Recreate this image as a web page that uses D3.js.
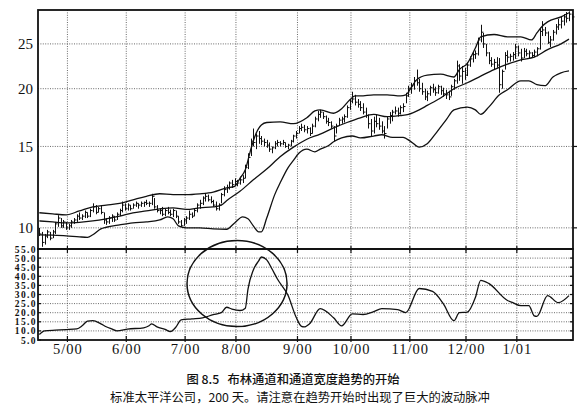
<!DOCTYPE html>
<html><head><meta charset="utf-8">
<script src="https://cdn.jsdelivr.net/npm/d3@7"></script>
<style>body{margin:0;background:#fff}</style>
</head><body><svg id="c" width="585" height="409"></svg>
<script>
// ---- data (200 trading days, Apr 2000 - Jan 2001) ----
const months = ["5/00","6/00","7/00","8/00","9/00","10/00","11/00","12/00","1/01"];
const monthStart = [11,33,55,74,97,117,139,160,179];
const priceTicks = [10,15,20,25];
const bwTicks = [5,10,15,20,25,30,35,40,45,50,55];

const high = [10.0,9.8,9.7,9.9,9.8,9.9,10.3,10.65,10.5,10.4,
10.3,10.2,10.4,10.5,10.7,10.8,10.7,10.9,10.8,11.0,
11.3,11.2,11.1,11.2,10.8,10.5,10.6,10.7,10.6,10.8,
11.0,11.4,11.3,11.3,11.2,11.3,11.4,11.3,11.4,11.4,
11.5,11.4,11.85,11.6,11.2,11.0,11.1,11.0,11.1,10.95,
11.0,10.9,10.6,10.4,10.5,10.6,10.9,10.8,11.0,11.3,
11.5,11.7,11.9,11.8,11.7,11.5,11.4,11.3,11.9,12.3,
12.4,12.6,12.7,12.8,12.7,12.9,13.0,13.7,14.5,15.6,
16.4,16.0,16.2,15.8,15.6,15.5,15.3,15.0,15.4,15.5,
15.4,15.5,15.3,15.2,15.5,15.9,16.2,16.6,16.8,16.7,
16.6,16.5,16.8,17.4,17.9,18.0,17.8,17.5,17.3,17.0,
16.6,16.8,17.3,17.4,17.6,18.4,19.0,19.7,19.4,19.0,
18.8,18.6,18.2,17.6,17.2,17.4,17.6,17.3,17.0,16.6,
17.4,17.8,18.0,18.3,18.2,18.4,18.6,19.6,20.3,20.6,
21.2,22.0,21.0,20.6,20.0,19.8,20.3,20.5,20.2,20.4,
20.3,20.1,19.9,19.8,20.4,21.0,23.0,22.6,22.4,22.2,
22.8,23.5,24.0,24.2,25.8,27.5,26.4,25.0,24.0,23.4,
23.2,23.4,23.3,22.0,24.0,24.2,23.8,24.0,25.0,24.8,
24.4,24.5,24.4,24.2,24.0,24.3,24.6,27.0,28.0,27.2,
26.6,26.0,26.8,27.6,28.3,28.6,29.0,29.3,29.4,29.0];
const low = [9.6,9.1,9.2,9.5,9.4,9.5,9.7,10.05,10.0,10.0,
9.9,9.9,10.0,10.2,10.3,10.4,10.4,10.5,10.5,10.55,
10.8,10.7,10.8,10.7,10.2,10.15,10.2,10.3,10.3,10.4,
10.6,10.8,10.9,10.9,10.9,11.0,11.1,11.0,11.1,11.1,
11.2,11.1,11.2,11.0,10.8,10.7,10.6,10.6,10.7,10.6,
10.55,10.5,10.2,10.05,10.1,10.2,10.4,10.5,10.6,10.8,
11.0,11.2,11.4,11.4,11.3,11.1,10.9,10.9,11.3,11.7,
11.9,12.1,12.2,12.3,12.3,12.4,12.5,12.8,13.4,14.3,
15.0,14.8,15.2,15.1,15.0,14.9,14.6,14.5,14.8,15.0,
15.0,15.1,14.9,14.8,15.0,15.3,15.6,16.0,16.2,16.1,
16.0,15.8,16.0,16.5,17.0,17.3,17.2,16.8,16.6,16.4,
15.4,16.0,16.6,16.8,16.9,17.3,18.0,18.6,18.4,18.2,
17.9,17.6,17.3,16.4,15.8,16.0,16.5,16.3,16.0,15.6,
16.4,16.8,17.0,17.6,17.4,17.6,17.8,18.6,19.2,19.5,
19.9,20.3,19.7,19.4,18.9,18.8,19.3,19.6,19.3,19.5,
19.4,19.2,19.0,18.9,19.3,19.9,20.5,20.8,20.5,20.9,
21.3,22.3,22.8,23.2,23.6,25.2,24.5,23.5,22.6,22.3,
22.0,22.2,19.6,20.0,22.0,22.8,22.9,23.0,23.2,23.5,
22.9,23.3,23.5,23.3,23.3,23.4,23.5,24.3,26.0,26.0,
25.0,24.6,25.4,26.2,26.8,27.0,27.4,27.8,28.0,28.2];
const close = [9.7,9.3,9.6,9.8,9.5,9.8,10.2,10.5,10.1,10.3,
10.0,10.1,10.3,10.4,10.6,10.5,10.6,10.8,10.6,10.9,
11.1,10.8,11.0,10.8,10.4,10.3,10.5,10.6,10.4,10.7,
10.9,11.2,11.0,11.2,11.0,11.2,11.3,11.2,11.3,11.35,
11.3,11.3,11.7,11.1,10.9,10.9,10.7,10.9,10.8,10.7,
10.9,10.6,10.3,10.1,10.4,10.5,10.7,10.6,10.9,11.2,
11.3,11.6,11.7,11.5,11.4,11.2,11.0,11.2,11.8,12.1,
12.2,12.5,12.4,12.6,12.5,12.7,12.8,13.5,14.2,15.4,
15.3,15.8,15.6,15.4,15.3,15.1,14.8,14.9,15.2,15.3,
15.2,15.3,15.0,15.1,15.4,15.8,16.0,16.4,16.5,16.3,
16.4,16.0,16.6,17.2,17.6,17.8,17.4,17.0,16.9,16.6,
15.8,16.6,17.1,17.2,17.4,18.2,18.8,19.0,18.7,18.5,
18.2,17.8,17.5,16.8,16.2,17.0,16.8,16.6,16.2,16.0,
17.2,17.5,17.8,17.9,17.7,18.2,18.3,19.3,20.0,20.3,
20.8,20.6,20.0,19.7,19.2,19.5,20.1,19.9,19.6,20.2,
19.8,19.5,19.4,19.2,20.2,20.8,22.4,21.3,21.8,21.4,
22.5,23.2,23.7,23.8,25.5,26.5,25.0,23.9,23.0,22.6,
22.8,22.5,20.4,21.8,23.6,23.4,23.5,23.7,24.6,23.9,
23.3,24.1,23.8,23.9,23.6,24.0,24.4,26.6,26.8,26.4,
25.2,25.5,26.5,27.2,27.5,28.0,28.6,28.4,29.0,28.6];

const upperDays = [0,5,10,15,20,25,30,35,40,45,50,55,60,65,70,73,75,77,79,81,83,85,90,95,100,103,105,110,113,116,118,120,125,130,135,137,139,141,145,150,155,157,160,163,165,170,175,180,184,186,188,190,195,198];
const upperBand = [10.78,10.72,10.67,10.88,11.1,11.2,11.3,11.5,11.7,11.85,11.8,11.8,11.85,11.95,12.2,12.3,12.8,13.35,14.75,16.0,16.7,16.9,16.95,16.8,17.3,17.9,18.0,17.7,18.1,18.9,19.3,19.3,19.4,19.4,19.3,19.4,20.1,20.9,21.4,21.5,21.2,22.0,22.7,24.5,25.9,26.2,25.9,25.9,25.5,26.4,27.3,27.9,28.6,29.2];
const middleDays = [0,5,10,15,20,25,30,35,40,45,50,55,60,65,68,70,75,80,85,90,95,100,105,110,115,120,125,130,135,138,142,145,150,155,160,165,170,175,180,185,190,195,198];
const middleBand = [10.35,10.3,10.25,10.28,10.35,10.46,10.6,10.78,10.88,10.99,11.05,10.96,11.05,11.1,11.2,11.45,12.0,12.7,13.4,14.25,14.95,15.55,15.95,16.45,16.9,17.3,17.6,17.4,17.5,17.6,18.0,18.4,19.1,20.0,20.6,21.3,22.0,22.6,23.1,23.4,24.3,25.0,25.6];
const lowerDays = [0,5,10,15,18,20,23,25,30,35,40,45,48,50,52,55,60,65,70,73,76,78,80,82,83,85,88,90,93,95,97,100,103,105,108,110,113,117,120,125,128,132,136,139,142,145,148,152,155,160,163,165,168,172,175,180,183,186,189,192,195,198];
const lowerBand = [9.66,9.64,9.61,9.56,9.54,9.66,9.95,10.03,10.15,10.25,10.3,10.4,10.56,10.46,10.1,10.0,10.0,9.95,9.93,10.25,10.56,10.46,10.1,9.8,9.8,10.5,11.8,12.5,13.5,14.0,14.5,14.8,14.6,14.8,15.05,15.35,15.65,15.8,15.65,15.8,15.9,15.7,15.7,15.35,14.95,15.2,15.95,17.1,18.0,18.25,18.0,17.6,18.25,19.4,19.9,20.8,20.8,20.4,20.3,21.2,21.65,21.85];

const bwDays = [0,2,6,10,14,16,18,20,23,25,27,29,33,39,41,42,44,47,49,51,53,57,61,65,68,70,72,75,77,78,80,82,83,85,87,89,93,96,98,99,101,105,110,113,117,121,125,128,134,137,142,147,151,155,157,160,163,165,168,175,177,180,183,185,186,190,194,198];
const bwValues = [8.0,10.0,10.4,10.7,11.1,12.8,15.4,15.6,13.9,12.3,11.1,10.0,11.0,11.7,12.8,13.9,12.2,10.8,9.6,12.0,16.0,16.6,17.2,18.9,20.0,23.0,22.0,21.2,22.5,33.0,43.5,48.5,50.6,49.0,44.0,38.5,29.4,17.5,12.5,12.2,13.9,22.2,17.2,12.8,19.4,19.0,20.6,22.2,21.7,20.0,33.3,31.7,25.0,15.6,20.0,20.3,28.3,37.8,36.1,26.7,25.5,23.9,23.9,18.3,18.0,29.4,25.5,29.4];

// ---- layout ----
const L = 38, R = 573, T = 10, MID = 249, B = 340;
const svg = d3.select("#c");
const x = d3.scaleLinear().domain([0,200]).range([L,R]);
const yP = d3.scaleLog().domain([9.0,29.6]).range([MID,T]);
const yB = d3.scaleLinear().domain([5,55]).range([B,MID]);
const cx = i => x(i+0.5);

const dot = {stroke:"#444","stroke-width":0.8,"stroke-dasharray":"1,1.4"};
function styl(sel,o){for(const k in o) sel.attr(k,o[k]); return sel;}

// gridlines
styl(svg.append("g").selectAll("line").data(monthStart).join("line")
  .attr("x1",d=>x(d)).attr("x2",d=>x(d)).attr("y1",T).attr("y2",B),dot);
styl(svg.append("g").selectAll("line").data(priceTicks).join("line")
  .attr("x1",L).attr("x2",R).attr("y1",d=>yP(d)).attr("y2",d=>yP(d)),dot);
styl(svg.append("g").selectAll("line").data(bwTicks.slice(1,-1)).join("line")
  .attr("x1",L).attr("x2",R).attr("y1",d=>yB(d)).attr("y2",d=>yB(d)),dot);

// price bars
const bars = svg.append("g").attr("stroke","#111").attr("stroke-width",1);
d3.range(high.length).forEach(i=>{
  const xx = Math.round(cx(i))+0.5;
  bars.append("line").attr("x1",xx).attr("x2",xx).attr("y1",yP(high[i])).attr("y2",yP(low[i]));
  bars.append("line").attr("x1",xx).attr("x2",xx+2).attr("y1",yP(close[i])).attr("y2",yP(close[i]));
});

// bands
const bandLine = (days,vals) => d3.line().x((d,i)=>cx(days[i])).y(d=>yP(d)).curve(d3.curveMonotoneX)(vals);
[[upperDays,upperBand],[middleDays,middleBand],[lowerDays,lowerBand]].forEach(([d,v])=>{
  svg.append("path").attr("d",bandLine(d,v)).attr("fill","none").attr("stroke","#111").attr("stroke-width",1.3);
});

// bandwidth
svg.append("path").attr("d",d3.line().x((d,i)=>cx(bwDays[i])).y(d=>yB(d)).curve(d3.curveMonotoneX)(bwValues))
  .attr("fill","none").attr("stroke","#111").attr("stroke-width",1.3);

// annotation ellipse
svg.append("ellipse").attr("cx",x(74.4)).attr("cy",yB(36)).attr("rx",50).attr("ry",43)
  .attr("fill","none").attr("stroke","#111").attr("stroke-width",1.5);

// frames
svg.append("rect").attr("x",L).attr("y",T).attr("width",R-L).attr("height",MID-T).attr("fill","none").attr("stroke","#111").attr("stroke-width",1.8);
svg.append("rect").attr("x",L).attr("y",MID).attr("width",R-L).attr("height",B-MID).attr("fill","none").attr("stroke","#111").attr("stroke-width",1.8);

// small ticks
const tk = svg.append("g").attr("stroke","#111").attr("stroke-width",1.2);
priceTicks.forEach(v=>{tk.append("line").attr("x1",R).attr("x2",R+4).attr("y1",yP(v)).attr("y2",yP(v));});
bwTicks.forEach(v=>{
  tk.append("line").attr("x1",L).attr("x2",L+3).attr("y1",yB(v)).attr("y2",yB(v));
  tk.append("line").attr("x1",R-3).attr("x2",R).attr("y1",yB(v)).attr("y2",yB(v));
});
monthStart.forEach(d=>{
  tk.append("line").attr("x1",x(d)).attr("x2",x(d)).attr("y1",MID-3).attr("y2",MID+4);
  tk.append("line").attr("x1",x(d)).attr("x2",x(d)).attr("y1",B-4).attr("y2",B+2);
});

// axes (labels)
const ax1 = svg.append("g").attr("transform",`translate(${L},0)`)
  .call(d3.axisLeft(yP).tickValues(priceTicks).tickFormat(d3.format("d")).tickSize(0).tickPadding(5));
ax1.select(".domain").remove();
ax1.selectAll("text").attr("font-family","Liberation Serif").attr("font-size",15).attr("fill","#111");

const ax2 = svg.append("g").attr("transform",`translate(${L},0)`)
  .call(d3.axisLeft(yB).tickValues(bwTicks).tickFormat(d3.format(".1f")).tickSize(0).tickPadding(1));
ax2.select(".domain").remove();
ax2.selectAll("text").attr("font-family","Liberation Serif").attr("font-weight","bold").attr("font-size",9.5).attr("fill","#111").attr("letter-spacing","1.4");

const ax3 = svg.append("g").attr("transform",`translate(0,${B})`)
  .call(d3.axisBottom(x).tickValues(monthStart).tickFormat((d,i)=>months[i]).tickSize(0).tickPadding(4));
ax3.select(".domain").remove();
ax3.selectAll("text").attr("font-family","Liberation Serif").attr("font-size",14.5).attr("fill","#111").attr("letter-spacing","1");

// caption
svg.append("text").attr("x",293).attr("y",384).attr("text-anchor","middle")
  .attr("font-family","Noto Sans CJK SC").attr("font-size",12.3).attr("font-weight","500").attr("fill","#111")
  .attr("xml:space","preserve").text("图 8.5   布林通道和通道宽度趋势的开始");
svg.append("text").attr("x",300).attr("y",402).attr("text-anchor","middle")
  .attr("font-family","Noto Sans CJK SC").attr("font-size",12.3).attr("fill","#111")
  .text("标准太平洋公司，200 天。请注意在趋势开始时出现了巨大的波动脉冲");
</script></body></html>
